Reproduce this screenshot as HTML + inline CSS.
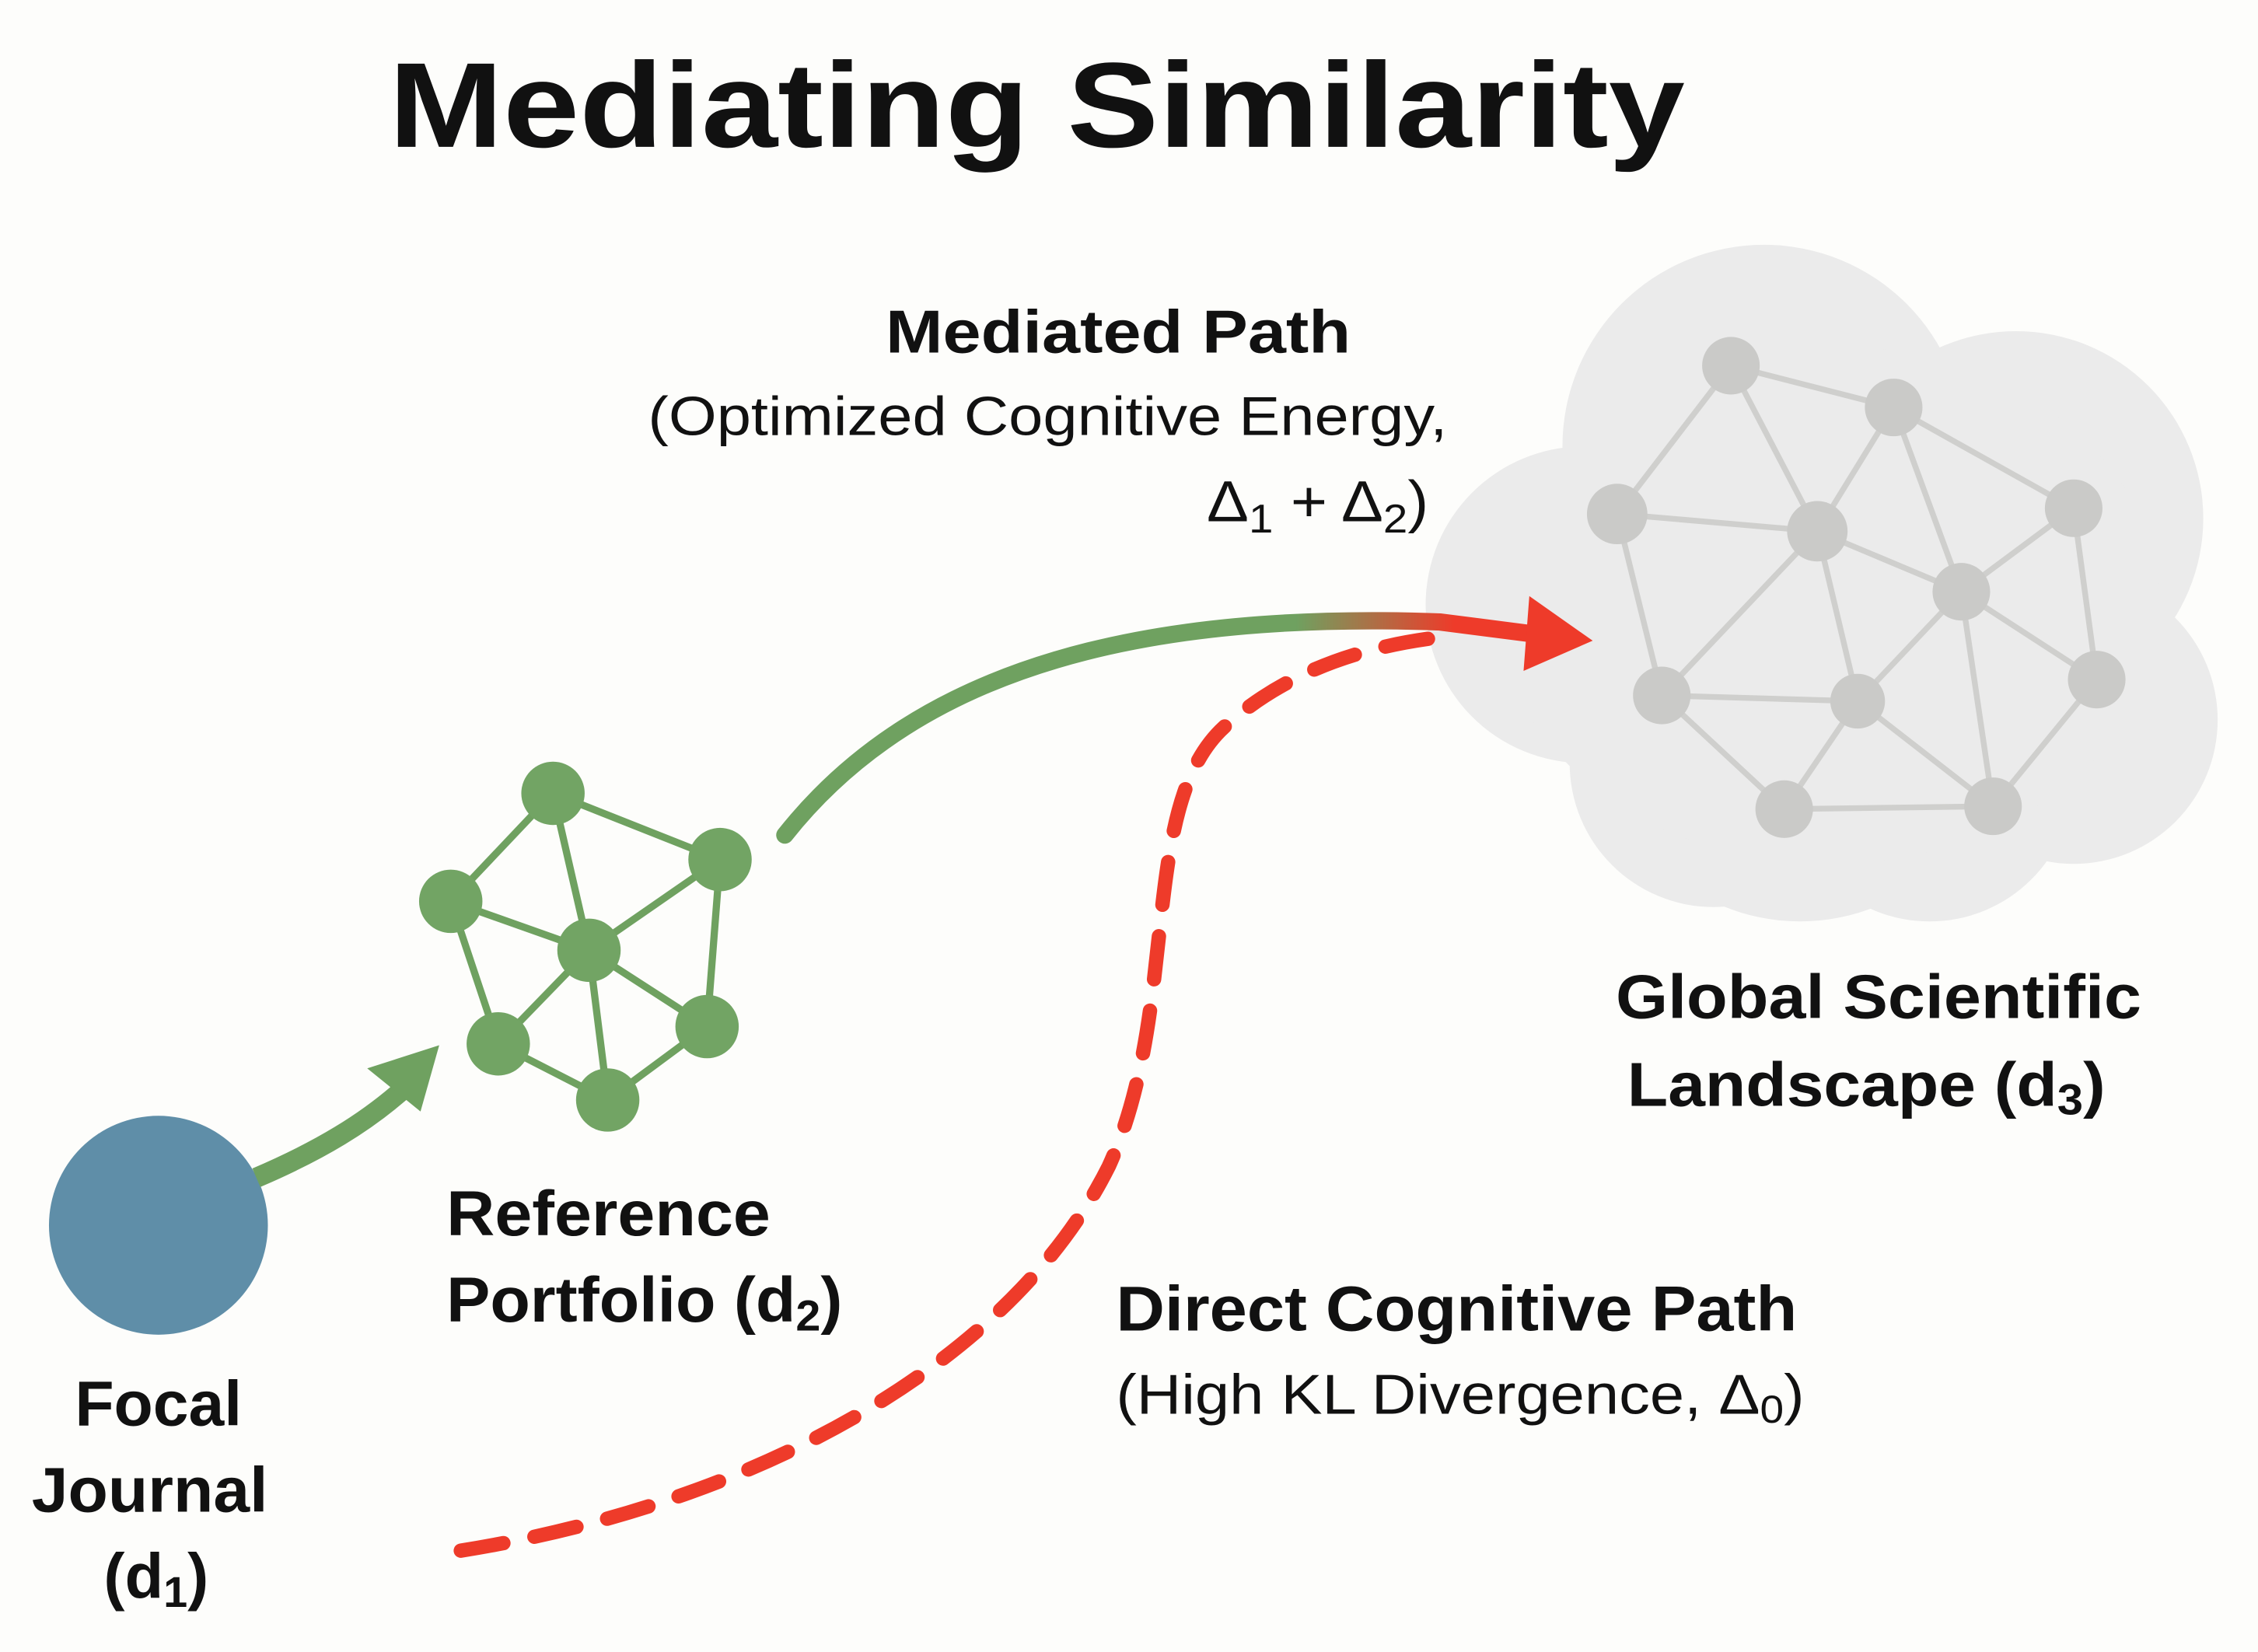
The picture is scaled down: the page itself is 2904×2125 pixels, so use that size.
<!DOCTYPE html>
<html><head><meta charset="utf-8"><style>
html,body{margin:0;padding:0;background:#fdfdfb;}
svg{display:block}
text{font-family:"Liberation Sans",sans-serif;fill:#111}
.b{font-weight:bold}
</style></head><body>
<svg width="2904" height="2125" viewBox="0 0 1568 1147.4" xmlns="http://www.w3.org/2000/svg">
<defs>
<linearGradient id="gr" gradientUnits="userSpaceOnUse" x1="900" y1="0" x2="1010" y2="0">
<stop offset="0" stop-color="#6fa160"/><stop offset="1" stop-color="#ee3b2a"/></linearGradient>
</defs>
<rect width="1568" height="1148" fill="#fdfdfb"/>
<text x="720" y="102" font-size="84" font-weight="bold" text-anchor="middle" textLength="900" lengthAdjust="spacingAndGlyphs">Mediating Similarity</text>

<!-- cloud -->
<g fill="#ebebeb">
<circle cx="1225" cy="310" r="140"/>
<circle cx="1400" cy="360" r="130"/>
<circle cx="1100" cy="420" r="110"/>
<circle cx="1440" cy="500" r="100"/>
<circle cx="1250" cy="500" r="140"/>
<circle cx="1190" cy="530" r="100"/>
<circle cx="1340" cy="540" r="100"/>
<ellipse cx="1270" cy="420" rx="230" ry="180"/>
</g>
<g stroke="#cfcfcd" stroke-width="4">
<line x1="1202" y1="254" x2="1315" y2="283"/><line x1="1202" y1="254" x2="1123" y2="357"/>
<line x1="1202" y1="254" x2="1262" y2="369"/><line x1="1315" y1="283" x2="1262" y2="369"/>
<line x1="1315" y1="283" x2="1362" y2="411"/><line x1="1315" y1="283" x2="1440" y2="353"/>
<line x1="1123" y1="357" x2="1262" y2="369"/><line x1="1123" y1="357" x2="1154" y2="483"/>
<line x1="1262" y1="369" x2="1362" y2="411"/><line x1="1262" y1="369" x2="1154" y2="483"/>
<line x1="1262" y1="369" x2="1290" y2="487"/><line x1="1440" y1="353" x2="1362" y2="411"/>
<line x1="1440" y1="353" x2="1456" y2="472"/><line x1="1362" y1="411" x2="1290" y2="487"/>
<line x1="1362" y1="411" x2="1456" y2="472"/><line x1="1362" y1="411" x2="1384" y2="560"/>
<line x1="1154" y1="483" x2="1290" y2="487"/><line x1="1154" y1="483" x2="1239" y2="562"/>
<line x1="1290" y1="487" x2="1239" y2="562"/><line x1="1290" y1="487" x2="1384" y2="560"/>
<line x1="1239" y1="562" x2="1384" y2="560"/><line x1="1456" y1="472" x2="1384" y2="560"/>
</g>
<g fill="#cacac8">
<circle cx="1202" cy="254" r="20"/><circle cx="1315" cy="283" r="20"/><circle cx="1123" cy="357" r="21"/>
<circle cx="1262" cy="369" r="21"/><circle cx="1440" cy="353" r="20"/><circle cx="1362" cy="411" r="20"/>
<circle cx="1154" cy="483" r="20"/><circle cx="1290" cy="487" r="19"/><circle cx="1456" cy="472" r="20"/>
<circle cx="1239" cy="562" r="20"/><circle cx="1384" cy="560" r="20"/>
</g>

<!-- focal -->
<circle cx="110" cy="851" r="76" fill="#5f8ea8"/>
<path d="M178,818 C220,800 255,780 285,752" fill="none" stroke="#6fa160" stroke-width="14"/>
<polygon points="305,726 255,742 292,772" fill="#6fa160"/>

<!-- green network -->
<g stroke="#6fa160" stroke-width="5">
<line x1="384" y1="551" x2="313" y2="626"/><line x1="384" y1="551" x2="500" y2="597"/>
<line x1="384" y1="551" x2="409" y2="660"/><line x1="313" y1="626" x2="409" y2="660"/>
<line x1="313" y1="626" x2="346" y2="725"/><line x1="500" y1="597" x2="409" y2="660"/>
<line x1="500" y1="597" x2="491" y2="713"/><line x1="409" y1="660" x2="346" y2="725"/>
<line x1="409" y1="660" x2="491" y2="713"/><line x1="409" y1="660" x2="422" y2="764"/>
<line x1="346" y1="725" x2="422" y2="764"/><line x1="491" y1="713" x2="422" y2="764"/>
</g>
<g fill="#72a464">
<circle cx="384" cy="551" r="22"/><circle cx="500" cy="597" r="22"/><circle cx="313" cy="626" r="22"/>
<circle cx="409" cy="660" r="22"/><circle cx="346" cy="725" r="22"/><circle cx="491" cy="713" r="22"/>
<circle cx="422" cy="764" r="22"/>
</g>

<!-- mediated path -->
<path d="M545,580 C640,460 800,425 1000,432 L1070,441" fill="none" stroke="url(#gr)" stroke-width="12" stroke-linecap="round"/>
<polygon points="1106,445 1062,414 1058,466" fill="#ee3b2a"/>

<!-- direct dashed -->
<path d="M320,1077 C520,1045 700,950 770,810 C820,700 790,560 850,505 C900,460 960,447 1005,442" fill="none" stroke="#ee3b2a" stroke-width="10" stroke-dasharray="30 22" stroke-linecap="round"/>

<!-- labels -->
<text class="b" x="615" y="245" font-size="42" textLength="323" lengthAdjust="spacingAndGlyphs">Mediated Path</text>
<text x="450" y="302" font-size="38" textLength="555" lengthAdjust="spacingAndGlyphs">(Optimized Cognitive Energy,</text>
<text x="838" y="362" font-size="40" textLength="154" lengthAdjust="spacingAndGlyphs">Δ<tspan font-size="28" dy="8">1</tspan><tspan dy="-8"> + Δ</tspan><tspan font-size="28" dy="8">2</tspan><tspan dy="-8">)</tspan></text>

<text class="b" x="1122" y="707" font-size="43" textLength="365" lengthAdjust="spacingAndGlyphs">Global Scientific</text>
<text class="b" x="1130" y="768" font-size="43" textLength="332" lengthAdjust="spacingAndGlyphs">Landscape (d<tspan font-size="30" dy="6">3</tspan><tspan dy="-6">)</tspan></text>

<text class="b" x="310" y="858" font-size="44" textLength="225" lengthAdjust="spacingAndGlyphs">Reference</text>
<text class="b" x="310" y="918" font-size="44" textLength="275" lengthAdjust="spacingAndGlyphs">Portfolio (d<tspan font-size="30" dy="6">2</tspan><tspan dy="-6">)</tspan></text>

<text class="b" x="52" y="990" font-size="44" textLength="116" lengthAdjust="spacingAndGlyphs">Focal</text>
<text class="b" x="22" y="1050" font-size="44" textLength="164" lengthAdjust="spacingAndGlyphs">Journal</text>
<text class="b" x="72" y="1110" font-size="44">(d<tspan font-size="30" dy="6">1</tspan><tspan dy="-6">)</tspan></text>

<text class="b" x="775" y="924" font-size="44" textLength="473" lengthAdjust="spacingAndGlyphs">Direct Cognitive Path</text>
<text x="775" y="982" font-size="39" textLength="478" lengthAdjust="spacingAndGlyphs">(High KL Divergence, Δ<tspan font-size="27" dy="6">0</tspan><tspan dy="-6">)</tspan></text>
</svg>
</body></html>
